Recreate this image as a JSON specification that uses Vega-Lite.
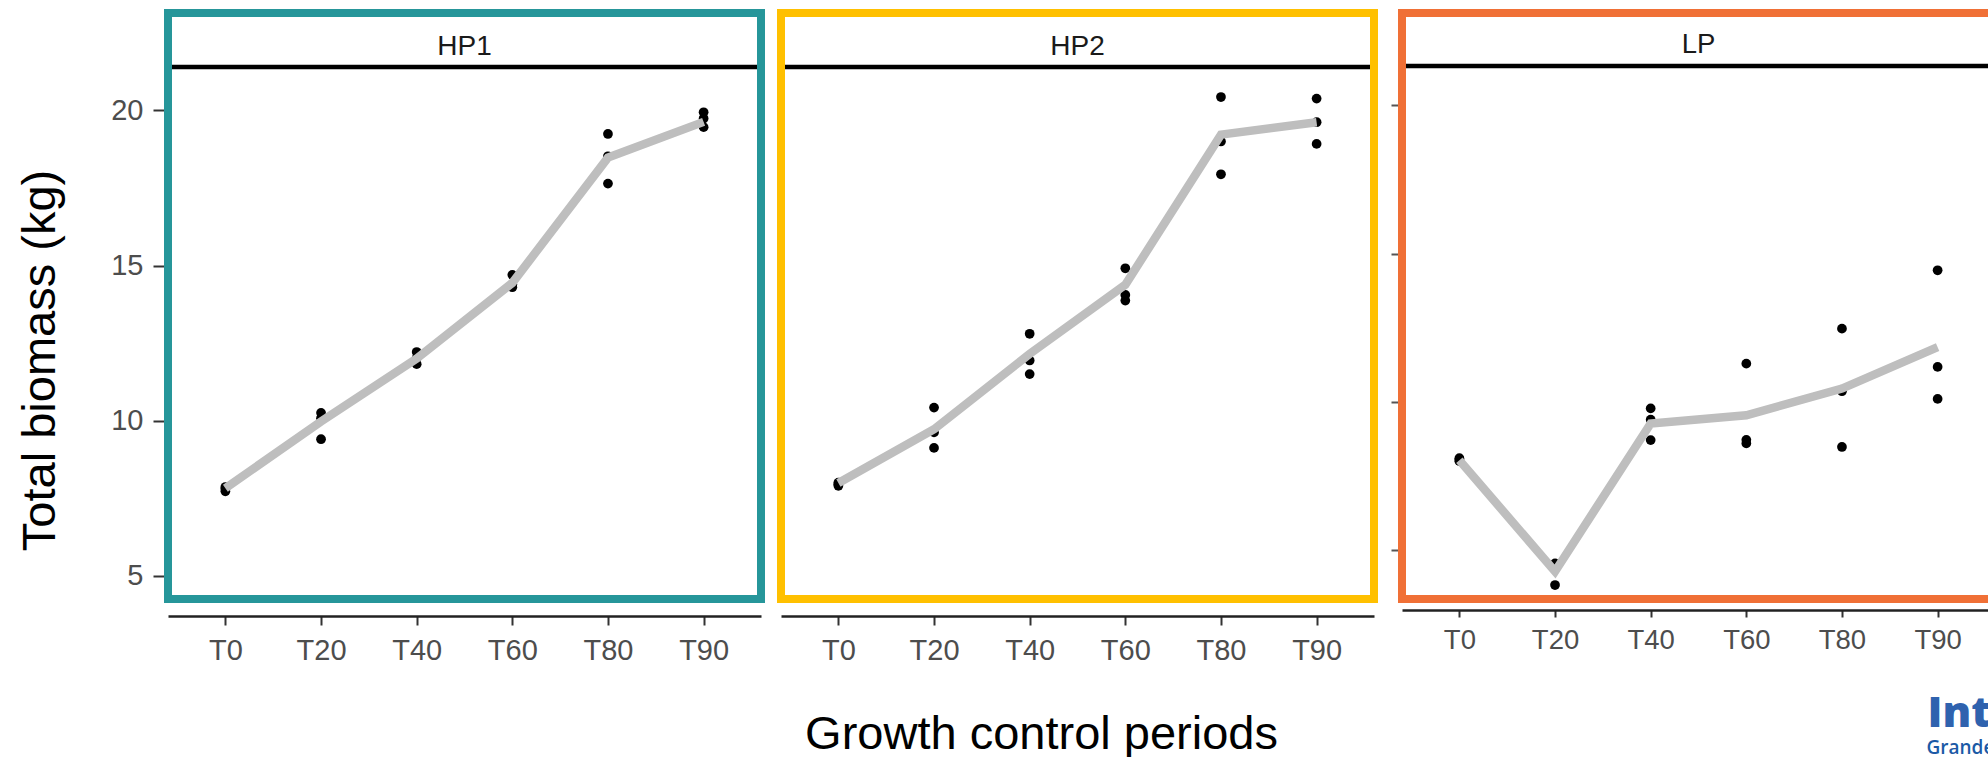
{
  "$schema": "https://vega.github.io/schema/vega-lite/v6.json",
  "background": "white",
  "padding": {"left": 16, "top": 9, "right": 0, "bottom": 0},
  "config": {"view": {"stroke": null}, "font": "Liberation Sans", "axis": {"grid": false}},
  "spacing": 12,
  "datasets": {
    "obs": [
      {"panel": "HP1", "period": "T0", "value": 7.72}, {"panel": "HP1", "period": "T0", "value": 7.80}, {"panel": "HP1", "period": "T0", "value": 7.86},
      {"panel": "HP1", "period": "T20", "value": 10.25}, {"panel": "HP1", "period": "T20", "value": 10.08}, {"panel": "HP1", "period": "T20", "value": 9.40},
      {"panel": "HP1", "period": "T40", "value": 12.21}, {"panel": "HP1", "period": "T40", "value": 12.02}, {"panel": "HP1", "period": "T40", "value": 11.82},
      {"panel": "HP1", "period": "T60", "value": 14.70}, {"panel": "HP1", "period": "T60", "value": 14.40}, {"panel": "HP1", "period": "T60", "value": 14.30},
      {"panel": "HP1", "period": "T80", "value": 19.24}, {"panel": "HP1", "period": "T80", "value": 18.52}, {"panel": "HP1", "period": "T80", "value": 17.64},
      {"panel": "HP1", "period": "T90", "value": 19.94}, {"panel": "HP1", "period": "T90", "value": 19.74}, {"panel": "HP1", "period": "T90", "value": 19.46},
      {"panel": "HP2", "period": "T0", "value": 8.00}, {"panel": "HP2", "period": "T0", "value": 7.95}, {"panel": "HP2", "period": "T0", "value": 7.90},
      {"panel": "HP2", "period": "T20", "value": 10.42}, {"panel": "HP2", "period": "T20", "value": 9.62}, {"panel": "HP2", "period": "T20", "value": 9.12},
      {"panel": "HP2", "period": "T40", "value": 12.80}, {"panel": "HP2", "period": "T40", "value": 11.94}, {"panel": "HP2", "period": "T40", "value": 11.50},
      {"panel": "HP2", "period": "T60", "value": 14.91}, {"panel": "HP2", "period": "T60", "value": 14.05}, {"panel": "HP2", "period": "T60", "value": 13.87},
      {"panel": "HP2", "period": "T80", "value": 20.43}, {"panel": "HP2", "period": "T80", "value": 19.00}, {"panel": "HP2", "period": "T80", "value": 17.94},
      {"panel": "HP2", "period": "T90", "value": 20.38}, {"panel": "HP2", "period": "T90", "value": 19.62}, {"panel": "HP2", "period": "T90", "value": 18.92},
      {"panel": "LP", "period": "T0", "value": 8.10}, {"panel": "LP", "period": "T0", "value": 8.05}, {"panel": "LP", "period": "T0", "value": 8.00},
      {"panel": "LP", "period": "T20", "value": 4.55}, {"panel": "LP", "period": "T20", "value": 4.45}, {"panel": "LP", "period": "T20", "value": 3.82},
      {"panel": "LP", "period": "T40", "value": 9.78}, {"panel": "LP", "period": "T40", "value": 9.40}, {"panel": "LP", "period": "T40", "value": 8.71},
      {"panel": "LP", "period": "T60", "value": 11.29}, {"panel": "LP", "period": "T60", "value": 8.72}, {"panel": "LP", "period": "T60", "value": 8.60},
      {"panel": "LP", "period": "T80", "value": 12.47}, {"panel": "LP", "period": "T80", "value": 10.36}, {"panel": "LP", "period": "T80", "value": 8.48},
      {"panel": "LP", "period": "T90", "value": 14.44}, {"panel": "LP", "period": "T90", "value": 11.18}, {"panel": "LP", "period": "T90", "value": 10.10}
    ],
    "mean": [
      {"panel": "HP1", "period": "T0", "value": 7.82}, {"panel": "HP1", "period": "T20", "value": 9.97}, {"panel": "HP1", "period": "T40", "value": 12.0},
      {"panel": "HP1", "period": "T60", "value": 14.44}, {"panel": "HP1", "period": "T80", "value": 18.48}, {"panel": "HP1", "period": "T90", "value": 19.63},
      {"panel": "HP2", "period": "T0", "value": 7.99}, {"panel": "HP2", "period": "T20", "value": 9.72}, {"panel": "HP2", "period": "T40", "value": 12.15},
      {"panel": "HP2", "period": "T60", "value": 14.38}, {"panel": "HP2", "period": "T80", "value": 19.22}, {"panel": "HP2", "period": "T90", "value": 19.62},
      {"panel": "LP", "period": "T0", "value": 8.03}, {"panel": "LP", "period": "T20", "value": 4.28}, {"panel": "LP", "period": "T40", "value": 9.27},
      {"panel": "LP", "period": "T60", "value": 9.55}, {"panel": "LP", "period": "T80", "value": 10.45}, {"panel": "LP", "period": "T90", "value": 11.85}
    ]
  },
  "hconcat": [
    {
      "width": 593, "height": 586,
      "layer": [
        {"data": {"values": [{}]}, "mark": {"type": "rule", "color": "#000000", "strokeWidth": 4.5},
         "encoding": {"y": {"datum": 21.4, "type": "quantitative", "scale": {"domain": [4.25, 23.14], "nice": false, "zero": false}}}},
        {"data": {"values": [{"strip": "HP1"}]}, "mark": {"type": "text", "fontSize": 28, "baseline": "alphabetic", "align": "center", "color": "#1A1A1A", "font": "Liberation Sans"},
         "encoding": {"text": {"field": "strip"}, "y": {"datum": 21.8, "type": "quantitative", "scale": {"domain": [4.25, 23.14], "nice": false, "zero": false}}}},
        {"data": {"name": "obs"}, "transform": [{"filter": "datum.panel === 'HP1'"}],
         "mark": {"type": "circle", "color": "#000000", "opacity": 1, "size": 95},
         "encoding": {
           "x": {"field": "period", "type": "ordinal", "sort": ["T0", "T20", "T40", "T60", "T80", "T90"], "scale": {"type": "point", "padding": 0.6},
                 "axis": {"title": null, "offset": 17, "domainColor": "#222222", "domainWidth": 2.5, "tickColor": "#333333", "tickWidth": 2, "tickSize": 9, "labelPadding": 11, "labelFontSize": 29, "labelColor": "#4D4D4D", "labelFont": "Liberation Sans", "labelAngle": 0}},
           "y": {"field": "value", "type": "quantitative", "scale": {"domain": [4.25, 23.14], "nice": false, "zero": false},
                 "axis": {"title": "Total biomass (kg)", "titleFontSize": 47, "titleFont": "Liberation Sans", "titleFontWeight": "normal", "titleColor": "#000000", "titleAngle": 270, "titleX": -114, "titleY": 347, "titleAlign": "center", "titleBaseline": "alphabetic",
                          "values": [5, 10, 15, 20], "domain": false, "tickSize": 15, "tickColor": "#333333", "tickWidth": 2, "labelPadding": 10, "labelFontSize": 29, "labelColor": "#4D4D4D", "labelFont": "Liberation Sans"}}
         }},
        {"data": {"name": "mean"}, "transform": [{"filter": "datum.panel === 'HP1'"}],
         "mark": {"type": "line", "color": "#BEBEBE", "strokeWidth": 8.5},
         "encoding": {
           "x": {"field": "period", "type": "ordinal", "sort": ["T0", "T20", "T40", "T60", "T80", "T90"], "scale": {"type": "point", "padding": 0.6}},
           "y": {"field": "value", "type": "quantitative", "scale": {"domain": [4.25, 23.14], "nice": false, "zero": false}}
         }},
        {"data": {"values": [{}]}, "mark": {"type": "rect", "filled": false, "color": "#26969A", "strokeWidth": 8}, "encoding": {}}
      ]
    },
    {
      "width": 593, "height": 586,
      "layer": [
        {"data": {"values": [{}]}, "mark": {"type": "rule", "color": "#000000", "strokeWidth": 4.5},
         "encoding": {"y": {"datum": 21.4, "type": "quantitative", "scale": {"domain": [4.25, 23.14], "nice": false, "zero": false}, "axis": null}}},
        {"data": {"values": [{"strip": "HP2"}]}, "mark": {"type": "text", "fontSize": 28, "baseline": "alphabetic", "align": "center", "color": "#1A1A1A", "font": "Liberation Sans"},
         "encoding": {"text": {"field": "strip"}, "y": {"datum": 21.8, "type": "quantitative", "scale": {"domain": [4.25, 23.14], "nice": false, "zero": false}, "axis": null}}},
        {"data": {"name": "obs"}, "transform": [{"filter": "datum.panel === 'HP2'"}],
         "mark": {"type": "circle", "color": "#000000", "opacity": 1, "size": 95},
         "encoding": {
           "x": {"field": "period", "type": "ordinal", "sort": ["T0", "T20", "T40", "T60", "T80", "T90"], "scale": {"type": "point", "padding": 0.6},
                 "axis": {"title": "Growth control periods", "titleFontSize": 47, "titleFont": "Liberation Sans", "titleFontWeight": "normal", "titleColor": "#000000", "titleX": 260, "titleY": 132, "titleAlign": "center", "titleBaseline": "alphabetic",
                          "offset": 17, "domainColor": "#222222", "domainWidth": 2.5, "tickColor": "#333333", "tickWidth": 2, "tickSize": 9, "labelPadding": 11, "labelFontSize": 29, "labelColor": "#4D4D4D", "labelFont": "Liberation Sans", "labelAngle": 0}},
           "y": {"field": "value", "type": "quantitative", "scale": {"domain": [4.25, 23.14], "nice": false, "zero": false}, "axis": null}
         }},
        {"data": {"name": "mean"}, "transform": [{"filter": "datum.panel === 'HP2'"}],
         "mark": {"type": "line", "color": "#BEBEBE", "strokeWidth": 8.5},
         "encoding": {
           "x": {"field": "period", "type": "ordinal", "sort": ["T0", "T20", "T40", "T60", "T80", "T90"], "scale": {"type": "point", "padding": 0.6}},
           "y": {"field": "value", "type": "quantitative", "scale": {"domain": [4.25, 23.14], "nice": false, "zero": false}, "axis": null}
         }},
        {"data": {"values": [{}]}, "mark": {"type": "rect", "filled": false, "color": "#FFC000", "strokeWidth": 8}, "encoding": {}}
      ]
    },
    {
      "width": 593, "height": 586,
      "layer": [
        {"data": {"values": [{}]}, "mark": {"type": "rule", "color": "#000000", "strokeWidth": 4.5},
         "encoding": {"y": {"datum": 21.33, "type": "quantitative", "scale": {"domain": [3.35, 23.12], "nice": false, "zero": false}}}},
        {"data": {"values": [{"strip": "LP"}]}, "mark": {"type": "text", "fontSize": 27.5, "baseline": "alphabetic", "align": "center", "color": "#1A1A1A", "font": "Liberation Sans"},
         "encoding": {"text": {"field": "strip"}, "y": {"datum": 21.77, "type": "quantitative", "scale": {"domain": [3.35, 23.12], "nice": false, "zero": false}}}},
        {"data": {"name": "obs"}, "transform": [{"filter": "datum.panel === 'LP'"}],
         "mark": {"type": "circle", "color": "#000000", "opacity": 1, "size": 95},
         "encoding": {
           "x": {"field": "period", "type": "ordinal", "sort": ["T0", "T20", "T40", "T60", "T80", "T90"], "scale": {"type": "point", "padding": 0.6},
                 "axis": {"title": "Interreg", "titleFontSize": 43, "titleFont": "Open Sans", "titleFontWeight": 800, "titleColor": "#2F62AE", "titleX": 525, "titleY": 116, "titleAlign": "left", "titleBaseline": "alphabetic",
                          "offset": 11, "domainColor": "#222222", "domainWidth": 2.5, "tickColor": "#333333", "tickWidth": 2, "tickSize": 7, "labelPadding": 9, "labelFontSize": 27.5, "labelColor": "#4D4D4D", "labelFont": "Liberation Sans", "labelAngle": 0}},
           "y": {"field": "value", "type": "quantitative", "scale": {"domain": [3.35, 23.12], "nice": false, "zero": false},
                 "axis": {"title": "Grande Région", "titleAngle": 0, "titleX": 524, "titleY": 740, "titleAlign": "left", "titleBaseline": "alphabetic", "titleFont": "Open Sans", "titleFontSize": 19, "titleFontWeight": 600, "titleColor": "#1B5AA6",
                          "values": [5, 10, 15, 20], "labels": false, "domain": false, "tickSize": 11, "tickColor": "#555555", "tickWidth": 2}}
         }},
        {"data": {"name": "mean"}, "transform": [{"filter": "datum.panel === 'LP'"}],
         "mark": {"type": "line", "color": "#BEBEBE", "strokeWidth": 8.5},
         "encoding": {
           "x": {"field": "period", "type": "ordinal", "sort": ["T0", "T20", "T40", "T60", "T80", "T90"], "scale": {"type": "point", "padding": 0.6}},
           "y": {"field": "value", "type": "quantitative", "scale": {"domain": [3.35, 23.12], "nice": false, "zero": false}}
         }},
        {"data": {"values": [{}]}, "mark": {"type": "rect", "filled": false, "color": "#F07036", "strokeWidth": 8}, "encoding": {}}
      ]
    }
  ]
}
